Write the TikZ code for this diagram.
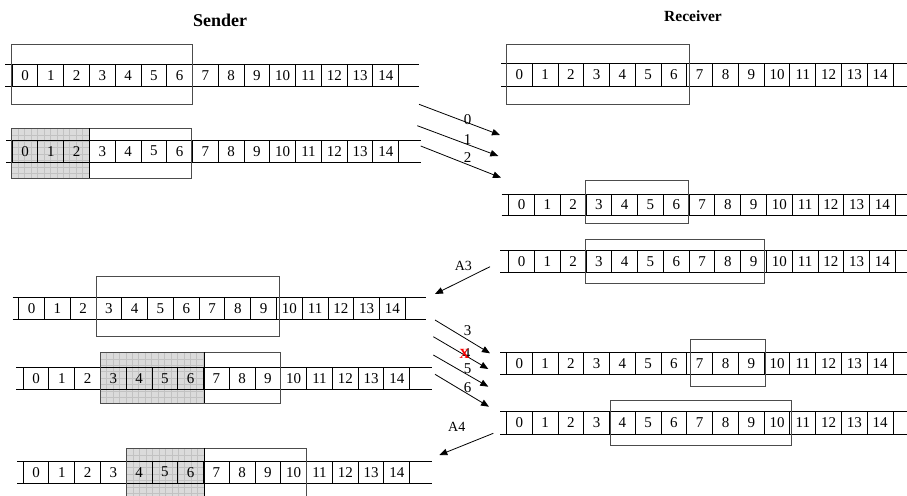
\documentclass[tikz,border=0pt]{standalone}
\usepackage{fontspec}
\setmainfont{Liberation Serif}
\usetikzlibrary{arrows.meta}

\tikzset{
  rowline/.style={line width=0.9pt, draw=black},
  cellbox/.style={draw=black, line width=0.9pt, minimum width=25.77pt,
    inner sep=0pt, anchor=west, font=\fontsize{15}{15}\selectfont},
  winbox/.style={draw=black!70, line width=1pt},
  ackfill/.style={fill=gray!28},
  gridline/.style={draw=gray!48, line width=0.35pt},
  msg/.style={line width=0.8pt, draw=black, -{Triangle[length=8pt,width=6.5pt]}},
  msglabel/.style={inner sep=0pt, font=\fontsize{15}{15}\selectfont},
  acklabel/.style={inner sep=0pt, font=\fontsize{14}{14}\selectfont},
  lossmark/.style={inner sep=0pt, text=red, font=\bfseries\fontsize{14}{14}\selectfont},
  headline/.style={inner sep=0pt, font=\bfseries\fontsize{#1}{#1}\selectfont},
}

% a sequence-number row: name, first cell x, top y, height, line left x, line right x
\newcommand\seqrow[6]{%
  \draw[rowline] (#5,#3) -- (#6,#3) (#5,#3+#4) -- (#6,#3+#4);
  \foreach \i in {0,...,14}
    \node[cellbox, minimum height=#4pt] (#1-\i) at ({#2+\i*25.77},{#3+#4/2}) {\i};
}

% acknowledged part of a sender window: shaded with a fine grid
\newcommand\ackblock[4]{%
  \fill[ackfill] (#1,#2) rectangle (#3,#4);
  \begin{scope}
    \clip (#1,#2) rectangle (#3,#4);
    \foreach \k in {1,...,20} {
      \draw[gridline] ({#1+\k*6.44},#2) -- ({#1+\k*6.44},#4);
      \draw[gridline] (#1,{#2+\k*6.44}) -- (#3,{#2+\k*6.44});
    }
  \end{scope}
}

\begin{document}
\begin{tikzpicture}[x=1pt,y=-1pt]
  \useasboundingbox (0,0) rectangle (907,495);
  \clip (0,0) rectangle (907,495);

  % titles
  \node[headline=18] (sendertitle) at (220,20) {Sender};
  \node[headline=15.5] (receivertitle) at (693,16.5) {Receiver};

  % shaded (acknowledged) regions, drawn first so cells sit on top
  \ackblock{11.7}{128.3}{89}{178.3}
  \ackblock{100}{352.3}{204}{403.3}
  \ackblock{126.7}{448.3}{204}{500}

  % sender rows
  \seqrow{sa}{11.7}{64.3}{22.4}{5}{419}
  \seqrow{sb}{11.7}{140}{22.3}{6}{420.7}
  \seqrow{sc}{18.3}{297.3}{22}{12.7}{426}
  \seqrow{sd}{22.7}{367.3}{22}{16}{431.7}
  \seqrow{se}{22.7}{461}{22.3}{17.3}{432.3}

  % receiver rows
  \seqrow{ra}{506}{63.3}{22.7}{501}{907}
  \seqrow{rb}{508.3}{194}{21.7}{501.7}{907}
  \seqrow{rc}{508.3}{250.3}{22}{500}{907}
  \seqrow{rd}{506}{352.7}{21.6}{500}{907}
  \seqrow{re}{506}{411.7}{22.3}{500}{907}

  % sender windows
  \draw[winbox] (11,44.3) rectangle (192.7,104.3);
  \draw[winbox] (11.7,128.3) rectangle (191.7,178.3);
  \draw[line width=1pt] (89,128.3) -- (89,178.3);
  \draw[winbox] (96.7,276.7) rectangle (279.3,336.7);
  \draw[winbox] (100,352.3) rectangle (280.7,403.3);
  \draw[line width=1pt] (204,352.3) -- (204,403.3);
  \draw[winbox] (126.7,448.3) rectangle (306.7,500);
  \draw[line width=1pt] (204,448.3) -- (204,500);

  % receiver windows
  \draw[winbox] (506,44.3) rectangle (689,104.3);
  \draw[winbox] (585.7,180) rectangle (688.3,223.3);
  \draw[winbox] (585.7,239) rectangle (764.3,283.3);
  \draw[winbox] (690,339.3) rectangle (765,386);
  \draw[winbox] (610,400.7) rectangle (791,445.7);

  % end points of the messages in flight
  \coordinate (d0s) at (419,104.3);   \coordinate (d0e) at (500,135);
  \coordinate (d1s) at (417.3,125.7); \coordinate (d1e) at (498.3,156);
  \coordinate (d2s) at (420.7,146);   \coordinate (d2e) at (501,177.7);
  \coordinate (k3s) at (490,266.7);   \coordinate (k3e) at (435,294);
  \coordinate (d3s) at (435,320);     \coordinate (d3e) at (490,353.3);
  \coordinate (d4s) at (433.3,336.7); \coordinate (d4e) at (488.3,369);
  \coordinate (d5s) at (433.3,355);   \coordinate (d5e) at (488.3,386.7);
  \coordinate (d6s) at (435,374.3);   \coordinate (d6e) at (489,406.7);
  \coordinate (k4s) at (493.3,433.3); \coordinate (k4e) at (439.3,455);

  % data frames 0-2
  \draw[msg] (d0s) -- (d0e);
  \draw[msg] (d1s) -- (d1e);
  \draw[msg] (d2s) -- (d2e);
  \node[msglabel] (l0) at (467.7,119.3) {0};
  \node[msglabel] (l1) at (467.7,140) {1};
  \node[msglabel] (l2) at (467.7,157.3) {2};

  % acknowledgement A3
  \draw[msg] (k3s) -- (k3e);
  \node[acklabel] (la3) at (463.3,266) {A3};

  % data frames 3-6, frame 4 lost
  \draw[msg] (d3s) -- (d3e);
  \draw[msg] (d4s) -- (d4e);
  \draw[msg] (d5s) -- (d5e);
  \draw[msg] (d6s) -- (d6e);
  \node[msglabel] (l3) at (467.7,330.7) {3};
  \node[msglabel] (l4) at (466.7,353.3) {4};
  \node[lossmark] (lx) at (464.3,354.3) {X};
  \node[msglabel] (l5) at (467.7,368.3) {5};
  \node[msglabel] (l6) at (467.7,387.7) {6};

  % acknowledgement A4
  \draw[msg] (k4s) -- (k4e);
  \node[acklabel] (la4) at (456.7,427.3) {A4};
\end{tikzpicture}
\end{document}
